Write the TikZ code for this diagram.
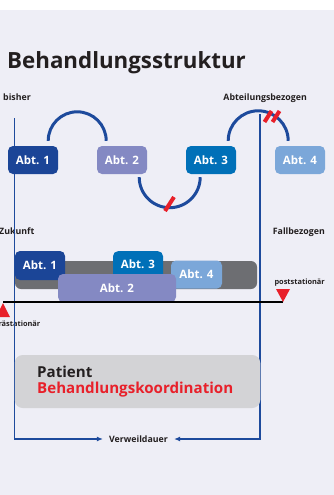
\documentclass[tikz,border=0pt]{standalone}
\usepackage{fontspec}
\setmainfont{Open Sans}
\usetikzlibrary{calc,arrows.meta}
\definecolor{bg}{HTML}{EEEEF6}
\definecolor{txt}{HTML}{231F20}
\definecolor{arcblue}{HTML}{1D4A9C}
\definecolor{abtone}{HTML}{1B4597}
\definecolor{abttwo}{HTML}{8489C3}
\definecolor{abtthree}{HTML}{0070B8}
\definecolor{abtfour}{HTML}{7BA7D9}
\definecolor{barg}{HTML}{6D6E72}
\definecolor{patg}{HTML}{D3D3D6}
\definecolor{myred}{HTML}{E8202A}
\begin{document}
\begin{tikzpicture}[x=1pt,y=-1pt,
  abt/.style={rounded corners=5pt, minimum width=50pt, minimum height=28pt, inner sep=0pt, text=white, font=\bfseries\fontsize{11.5}{13}\selectfont},
  lbl/.style={font=\bfseries\fontsize{8.8}{10}\selectfont, text=txt, inner sep=0pt},
  smalllbl/.style={font=\bfseries\fontsize{7.4}{9}\selectfont, text=txt, inner sep=0pt},
  arcline/.style={draw=arcblue, line width=3pt},
  slash/.style={draw=myred, line width=4pt},
  vline/.style={draw=arcblue, line width=1.3pt},
  tip/.style={-{Latex[length=6pt,width=5pt]}}]
\useasboundingbox (0,0) rectangle (334,495);
\fill[white] (0,0) rectangle (334,10);
\fill[bg] (0,10) rectangle (334,495);

% title
\node[anchor=base west, inner sep=0pt, font=\bfseries\fontsize{22.3}{26}\selectfont, text=txt] (title) at (7,68) {Behandlungsstruktur};

% labels
\node[lbl, anchor=base west] (bisher) at (3,100) {bisher};
\node[lbl, anchor=base east] (abtbez) at (307,100) {Abteilungsbezogen};
\node[lbl, anchor=base west] (zukunft) at (-1,234) {Zukunft};
\node[lbl, anchor=base east] (fallbez) at (325,234) {Fallbezogen};
\node[smalllbl, anchor=base east] (post) at (325,284.5) {poststationär};
\node[smalllbl, anchor=base east] (prae) at (40.5,326.5) {prästationär};

% vertical lines and Verweildauer
\coordinate (ltop) at (14.5,118);
\coordinate (rtop) at (260,114);
\coordinate (bl) at (14.5,439);
\coordinate (br) at (260,439);
\node[lbl, inner xsep=6pt] (vd) at (138.5,439) {Verweildauer};
\draw[vline, tip] (ltop) -- (bl) -- (vd.west);
\draw[vline, tip] (rtop) -- (br) -- (vd.east);

% row 1
\node[abt, fill=abtone] (a1) at (33,160) {Abt. 1};
\node[abt, fill=abttwo] (a2) at (122,160) {Abt. 2};
\node[abt, fill=abtthree] (a3) at (211,160) {Abt. 3};
\node[abt, fill=abtfour] (a4) at (300,160) {Abt. 4};

\draw[arcline] ($(a1.north east)+(-10,-5)$) arc[start angle=180, end angle=360, radius=29];
\draw[arcline] ($(a2.south east)+(-8,3)$) arc[start angle=180, end angle=0, radius=30.5];
\draw[arcline] ($(a3.north east)+(-8,-5)$) arc[start angle=180, end angle=360, radius=30];
\draw[vline] (rtop) -- ($(rtop)+(0,40)$);

\draw[slash] (165,211) -- (174,197);
\draw[slash] (264.5,122) -- (271.5,111);
\draw[slash] (272.5,122) -- (279.5,111);

% row 2
\node[fill=barg, rounded corners=6pt, minimum width=242pt, minimum height=28pt, inner sep=0pt] (bar) at (136,275) {};
\node[abt, fill=abtone, minimum height=29pt] (b1) at (40,265.5) {Abt. 1};
\node[abt, fill=abtthree, anchor=north] (b3) at (138,251) {\raisebox{3pt}{Abt. 3}};
\node[abt, fill=abtfour, minimum width=51pt] (b4) at (196.5,274.5) {Abt. 4};
\node[abt, fill=abttwo, minimum width=118pt] (b2) at (117,288) {Abt. 2};

% time line
\coordinate (tl) at (3,302);
\coordinate (tr) at (283,302);
\draw[black, line width=2pt] (tl) -- (tr);
\fill[myred] (3,303) -- (10,317) -- (-4,317) -- cycle;
\fill[myred] (283,302) -- (290,289) -- (276,289) -- cycle;

% patient box
\node[fill=patg, rounded corners=8pt, minimum width=245.5pt, minimum height=53pt, inner sep=0pt] (pbox) at (137.5,381.5) {};
\node[anchor=base west, inner sep=0pt, text=txt, font=\bfseries\fontsize{15.1}{18}\selectfont] (pat) at (37,377) {Patient};
\node[anchor=base west, inner sep=0pt, text=myred, font=\bfseries\fontsize{15.1}{18}\selectfont] (bk) at (37,393) {Behandlungskoordination};
\end{tikzpicture}
\end{document}
